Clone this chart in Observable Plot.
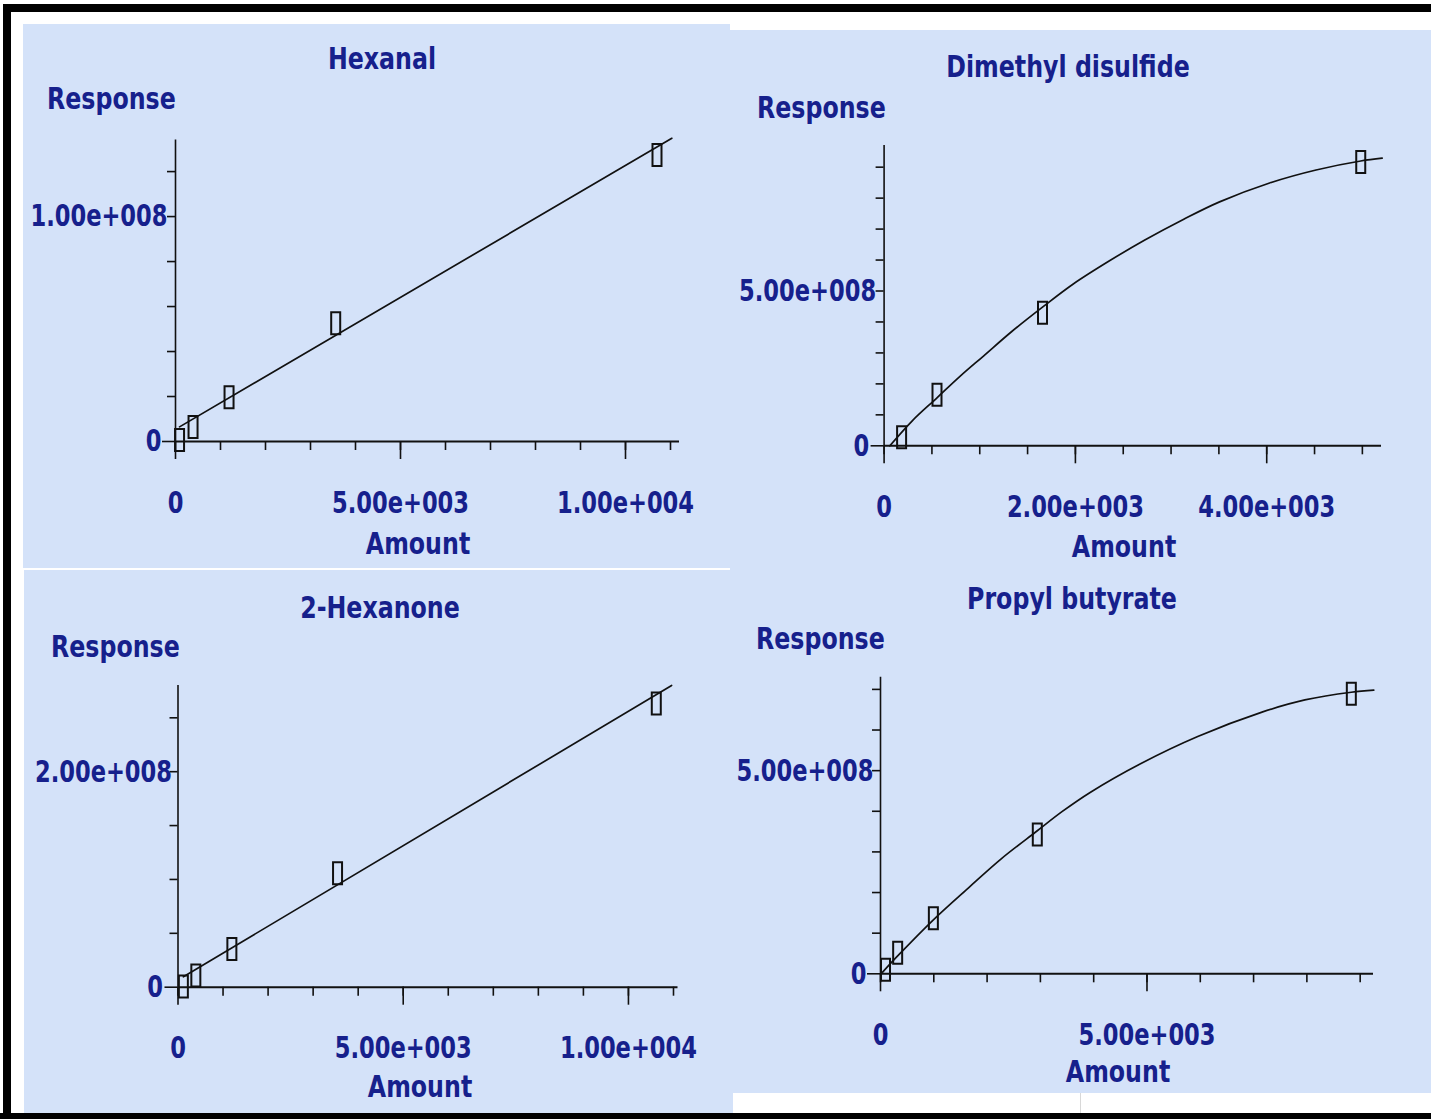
<!DOCTYPE html>
<html>
<head>
<meta charset="utf-8">
<script src="https://cdn.jsdelivr.net/npm/d3@7"></script>
<script src="https://cdn.jsdelivr.net/npm/@observablehq/plot@0.6"></script>
<style>
  html, body { margin: 0; padding: 0; background: #ffffff; }
  #page { position: relative; width: 1431px; height: 1119px; overflow: hidden; background: #ffffff; }
  .band { position: absolute; background: #000000; }
  .panel { position: absolute; background: #d4e2f9; }
  .panel svg { position: absolute; left: 0; top: 0; overflow: visible; }
  .lbl { position: absolute; font-family: "Liberation Sans Narrow", "DejaVu Sans Condensed", "Arial Narrow", sans-serif;
         font-weight: bold; font-size: 31px; line-height: 31px; color: #16208c; white-space: nowrap; }
</style>
</head>
<body>
<div id="page"></div>
<script>
// ---------------- DATA ----------------
// Hexanal
const hexanalAmount   = [90, 390, 1190, 3560, 10700];
const hexanalResponse = [0.7e6, 6.4e6, 1.97e7, 5.26e7, 1.274e8];
const hexanalFitAmount   = [90, 11030];
const hexanalFitResponse = [6.5e6, 1.348e8];

// Dimethyl disulfide
const dmdsAmount   = [183, 553, 1656, 4983];
const dmdsResponse = [2.8e7, 1.65e8, 4.3e8, 9.17e8];
const dmdsFitAmount   = [60, 292, 553, 796, 1039, 1338, 1656, 1974, 2348, 2721, 3133, 3507, 4030, 4516, 4983, 5207];
const dmdsFitResponse = [0, 8.0e7, 1.55e8, 2.25e8, 2.90e8, 3.70e8, 4.48e8, 5.22e8, 5.96e8, 6.64e8, 7.32e8, 7.88e8, 8.49e8, 8.91e8, 9.2e8, 9.29e8];

// 2-Hexanone
const hexanoneAmount   = [119, 396, 1196, 3542, 10618];
const hexanoneResponse = [0.6e6, 1.08e7, 3.55e7, 1.057e8, 2.634e8];
const hexanoneFitAmount   = [120, 10958];
const hexanoneFitResponse = [9.7e6, 2.8e8];

// Propyl butyrate
const propylAmount   = [94, 322, 992, 2942, 8834];
const propylResponse = [1.0e7, 5.2e7, 1.37e8, 3.43e8, 6.89e8];
const propylFitAmount   = [40, 322, 992, 1662, 2265, 2942, 3405, 3941, 4879, 5952, 7158, 7962, 8834, 9256];
const propylFitResponse = [4.1e6, 4.4e7, 1.33e8, 2.13e8, 2.83e8, 3.52e8, 3.99e8, 4.47e8, 5.17e8, 5.84e8, 6.44e8, 6.74e8, 6.93e8, 6.98e8];

// Titles and axis texts
const titles = ["Hexanal", "Dimethyl disulfide", "2-Hexanone", "Propyl butyrate"];
const yTitle = "Response";
const xTitle = "Amount";

// Axis extents
const xEnds = [11200, 5200, 11100, 9250];
const yEnds = [1.34e8, 9.7e8, 2.8e8, 7.3e8];

// Tick values
const hexanalXTicks  = [0, 1000, 2000, 3000, 4000, 5000, 6000, 7000, 8000, 9000, 10000, 11000];
const hexanalXMajor  = [0, 5000, 10000];
const hexanalYTicks  = [0, 2e7, 4e7, 6e7, 8e7, 1e8, 1.2e8];
const dmdsXTicks     = [0, 500, 1000, 1500, 2000, 2500, 3000, 3500, 4000, 4500, 5000];
const dmdsXMajor     = [0, 2000, 4000];
const dmdsYTicks     = [0, 1e8, 2e8, 3e8, 4e8, 5e8, 6e8, 7e8, 8e8, 9e8];
const hexanoneXTicks = [0, 1000, 2000, 3000, 4000, 5000, 6000, 7000, 8000, 9000, 10000, 11000];
const hexanoneXMajor = [0, 5000, 10000];
const hexanoneYTicks = [0, 5e7, 1e8, 1.5e8, 2e8, 2.5e8];
const propylXTicks   = [0, 1000, 2000, 3000, 4000, 5000, 6000, 7000, 8000, 9000];
const propylXMajor   = [0, 5000];
const propylYTicks   = [0, 1e8, 2e8, 3e8, 4e8, 5e8, 6e8, 7e8];

// Tick labels
const hexanalXLabelValues  = [0, 5000, 10000];
const hexanalXLabels       = ["0", "5.00e+003", "1.00e+004"];
const hexanalYLabelValues  = [0, 1e8];
const hexanalYLabels       = ["0", "1.00e+008"];
const dmdsXLabelValues     = [0, 2000, 4000];
const dmdsXLabels          = ["0", "2.00e+003", "4.00e+003"];
const dmdsYLabelValues     = [0, 5e8];
const dmdsYLabels          = ["0", "5.00e+008"];
const hexanoneXLabelValues = [0, 5000, 10000];
const hexanoneXLabels      = ["0", "5.00e+003", "1.00e+004"];
const hexanoneYLabelValues = [0, 2e8];
const hexanoneYLabels      = ["0", "2.00e+008"];
const propylXLabelValues   = [0, 5000];
const propylXLabels        = ["0", "5.00e+003"];
const propylYLabelValues   = [0, 5e8];
const propylYLabels        = ["0", "5.00e+008"];

// ---------------- LAYOUT / STYLE ----------------
const INK = "#111111";
const NAVY = "#16208c";
const FONT = '"Liberation Sans Narrow", "DejaVu Sans Condensed", "Arial Narrow", sans-serif';
const SQUEEZE = 0.85;      // horizontal compression of word labels
const NUM_SQUEEZE = 0.81;  // horizontal compression of numeric tick labels

const layouts = [
  { box: [23, 24, 707, 544],  m: [152, 115.6, 51, 127],   yPad: [14, 8],
    texts: [[382, 58, "middle"], [47, 97.5, "start"], [418, 542.5, "middle"]] },
  { box: [730, 30, 701, 550], m: [153.6, 115, 50, 134.7], yPad: [15, 8],
    texts: [[1068, 66, "middle"], [757, 107, "start"], [1124, 546, "middle"]] },
  { box: [24, 570, 709, 543], m: [153.5, 115, 55.5, 126.3], yPad: [15, 6],
    texts: [[380, 607, "middle"], [51, 646, "start"], [420, 1086, "middle"]] },
  { box: [733, 580, 698, 513], m: [147, 96.7, 58, 119.7],  yPad: [14, 7],
    texts: [[1072, 598, "middle"], [756, 638, "start"], [1118, 1071, "middle"]] }
];

const panelsData = [
  { pts: [hexanalAmount, hexanalResponse], fit: [hexanalFitAmount, hexanalFitResponse], curve: "linear",
    xt: hexanalXTicks, xm: hexanalXMajor, yt: hexanalYTicks,
    xl: [hexanalXLabelValues, hexanalXLabels], yl: [hexanalYLabelValues, hexanalYLabels] },
  { pts: [dmdsAmount, dmdsResponse], fit: [dmdsFitAmount, dmdsFitResponse], curve: "catmull-rom",
    xt: dmdsXTicks, xm: dmdsXMajor, yt: dmdsYTicks,
    xl: [dmdsXLabelValues, dmdsXLabels], yl: [dmdsYLabelValues, dmdsYLabels] },
  { pts: [hexanoneAmount, hexanoneResponse], fit: [hexanoneFitAmount, hexanoneFitResponse], curve: "linear",
    xt: hexanoneXTicks, xm: hexanoneXMajor, yt: hexanoneYTicks,
    xl: [hexanoneXLabelValues, hexanoneXLabels], yl: [hexanoneYLabelValues, hexanoneYLabels] },
  { pts: [propylAmount, propylResponse], fit: [propylFitAmount, propylFitResponse], curve: "catmull-rom",
    xt: propylXTicks, xm: propylXMajor, yt: propylYTicks,
    xl: [propylXLabelValues, propylXLabels], yl: [propylYLabelValues, propylYLabels] }
];

// tall narrow box marker (custom d3-symbol-like type)
const boxSymbol = {
  draw(ctx) {
    ctx.moveTo(-4.5, -11); ctx.lineTo(4.5, -11); ctx.lineTo(4.5, 11); ctx.lineTo(-4.5, 11); ctx.closePath();
  }
};

const page = document.getElementById("page");

function band(l, t, w, h, color) {
  const d = document.createElement("div");
  d.className = "band";
  Object.assign(d.style, { left: l + "px", top: t + "px", width: w + "px", height: h + "px" });
  if (color) d.style.background = color;
  page.appendChild(d);
}

function label(text, x, cy, anchor) {
  const d = document.createElement("div");
  d.className = "lbl";
  d.textContent = text;
  d.style.left = x + "px";
  d.style.top = (cy - 15) + "px";
  if (anchor === "middle") {
    d.style.transformOrigin = "50% 50%";
    d.style.transform = `translateX(-50%) scaleX(${SQUEEZE})`;
  } else {
    d.style.transformOrigin = "0 50%";
    d.style.transform = `scaleX(${SQUEEZE})`;
  }
  page.appendChild(d);
}

panelsData.forEach((p, i) => {
  const L = layouts[i];
  const [bx, by, bw, bh] = L.box;
  const div = document.createElement("div");
  div.className = "panel";
  Object.assign(div.style, { left: bx + "px", top: by + "px", width: bw + "px", height: bh + "px" });
  page.appendChild(div);

  const points = p.pts[0].map((a, k) => ({ amount: a, response: p.pts[1][k] }));
  const fit = p.fit[0].map((a, k) => ({ amount: a, response: p.fit[1][k] }));
  const xLab = new Map(p.xl[0].map((v, k) => [v, p.xl[1][k]]));
  const yLab = new Map(p.yl[0].map((v, k) => [v, p.yl[1][k]]));
  const yNonZero = p.yl[0].filter(v => v !== 0);

  const chart = Plot.plot({
    width: bw, height: bh,
    marginLeft: L.m[0], marginTop: L.m[1], marginRight: L.m[2], marginBottom: L.m[3],
    x: { domain: [0, xEnds[i]], label: null },
    y: { domain: [0, yEnds[i]], label: null },
    style: { background: "transparent", fontFamily: FONT, fontSize: "31px", fontWeight: "bold", overflow: "visible" },
    marks: [
      Plot.axisX({ ticks: p.xt, tickSize: 9, tickFormat: () => "", stroke: INK, strokeWidth: 1.6, label: null }),
      Plot.axisX({ ticks: p.xm, tickSize: 18, tickFormat: () => "", stroke: INK, strokeWidth: 1.6, label: null }),
      Plot.axisX({ ticks: p.xl[0], tickSize: 0, tickPadding: 49, tickFormat: d => xLab.get(d), fill: NAVY, label: null }),
      Plot.axisY({ ticks: p.yt.filter(v => v !== 0), tickSize: 8, tickFormat: () => "", stroke: INK, strokeWidth: 1.6, label: null }),
      Plot.axisY({ ticks: [0], tickSize: 13, tickFormat: () => "", stroke: INK, strokeWidth: 1.6, label: null }),
      Plot.axisY({ ticks: [0], tickSize: 0, tickPadding: L.yPad[0], tickFormat: d => yLab.get(d), fill: NAVY, label: null }),
      Plot.axisY({ ticks: yNonZero, tickSize: 0, tickPadding: L.yPad[1], tickFormat: d => yLab.get(d), fill: NAVY, label: null }),
      Plot.ruleY([0], { stroke: INK, strokeWidth: 2 }),
      Plot.ruleX([0], { stroke: INK, strokeWidth: 1.6 }),
      Plot.line(fit, { x: "amount", y: "response", stroke: INK, strokeWidth: 1.7, curve: p.curve }),
      Plot.dot(points, { x: "amount", y: "response", symbol: boxSymbol, fill: "none", stroke: INK, strokeWidth: 2 })
    ]
  });
  // compress tick label glyphs horizontally about their own anchor point
  chart.querySelectorAll("text").forEach(t => {
    const tr = t.getAttribute("transform") || "";
    t.setAttribute("transform", (tr + ` scale(${NUM_SQUEEZE},1)`).trim());
  });
  div.appendChild(chart);

  label(titles[i], L.texts[0][0], L.texts[0][1], L.texts[0][2]);
  label(yTitle, L.texts[1][0], L.texts[1][1], L.texts[1][2]);
  label(xTitle, L.texts[2][0], L.texts[2][1], L.texts[2][2]);
});

// black frame and thin separators
band(4, 4, 1427, 8);
band(3, 4, 8, 1115);
band(0, 1113, 1431, 6);
band(1080, 1093, 1, 20, "#d8d8d8");
</script>
</body>
</html>
